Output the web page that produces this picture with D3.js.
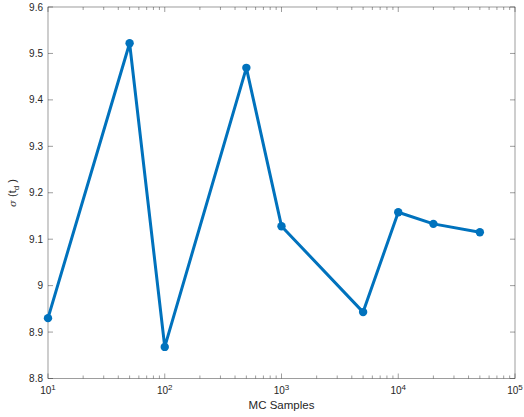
<!DOCTYPE html>
<html><head><meta charset="utf-8">
<script src="https://cdn.jsdelivr.net/npm/d3@7"></script>
<style>body{margin:0;background:#fff}text{font-family:"Liberation Sans",Arial,sans-serif}</style>
</head><body><svg id="c" width="524" height="417"></svg>
<script>
const samples = [10, 50, 100, 500, 1000, 5000, 10000, 20000, 50000];
const sigma = [8.930, 9.522, 8.868, 9.469, 9.128, 8.943, 9.158, 9.133, 9.115];
const yTicks = [8.8, 8.9, 9, 9.1, 9.2, 9.3, 9.4, 9.5, 9.6];
const xExps = [1, 2, 3, 4, 5];

const svg = d3.select("#c");
const L = 48, R = 515, T = 7, B = 378.5;
const x = d3.scaleLog().domain([10, 1e5]).range([L, R]);
const y = d3.scaleLinear().domain([8.8, 9.6]).range([B, T]);
const axc = "#262626";

svg.append("rect").attr("x", L).attr("y", T).attr("width", R - L).attr("height", B - T)
  .attr("fill", "none").attr("stroke", axc).attr("stroke-width", 0.6).attr("stroke-opacity", 0.75);

const xt = [];
for (let e = 1; e <= 5; e++) {
  for (let m = 1; m <= 9; m++) {
    const v = m * Math.pow(10, e);
    if (v > 1e5) break;
    xt.push({ v, major: m === 1 });
  }
}
const g = svg.append("g").attr("stroke", axc).attr("stroke-width", 0.6).attr("stroke-opacity", 0.75);
xt.forEach(t => {
  const px = x(t.v), len = t.major ? 5 : 3;
  g.append("line").attr("x1", px).attr("x2", px).attr("y1", B).attr("y2", B - len);
  g.append("line").attr("x1", px).attr("x2", px).attr("y1", T).attr("y2", T + len);
});
yTicks.forEach(v => {
  const py = y(v);
  g.append("line").attr("x1", L).attr("x2", L + 5).attr("y1", py).attr("y2", py);
  g.append("line").attr("x1", R).attr("x2", R - 5).attr("y1", py).attr("y2", py);
});

svg.append("g").selectAll("text").data(yTicks).join("text")
  .attr("x", L - 5).attr("y", d => y(d) + 3.5).attr("text-anchor", "end")
  .attr("font-size", 10).attr("fill", axc).text(d => d === 9 ? "9" : d.toFixed(1));

const xl = svg.append("g").attr("fill", axc);
xExps.forEach(e => {
  const t = xl.append("text").attr("x", x(Math.pow(10, e))).attr("y", 394)
    .attr("text-anchor", "middle").attr("font-size", 10);
  t.append("tspan").text("10");
  t.append("tspan").attr("dy", -4).attr("font-size", 8).text(e);
});

svg.append("text").attr("x", (L + R) / 2).attr("y", 409).attr("text-anchor", "middle")
  .attr("font-size", 11.5).attr("fill", axc).text("MC Samples");
const yl = svg.append("text").attr("transform", "translate(16,193) rotate(-90)")
  .attr("text-anchor", "middle").attr("font-size", 11).attr("fill", axc);
yl.append("tspan").attr("font-style", "italic").attr("font-family", "DejaVu Serif").attr("font-size", 10).text("σ");
yl.append("tspan").text(" (t");
yl.append("tspan").attr("dy", 3).attr("font-size", 8).text("d");
yl.append("tspan").attr("dy", -3).text(" )");

const data = samples.map((s, i) => [s, sigma[i]]);
svg.append("path").datum(data)
  .attr("d", d3.line().x(d => x(d[0])).y(d => y(d[1])))
  .attr("fill", "none").attr("stroke", "#0072BD").attr("stroke-width", 3).attr("stroke-linejoin", "round");
svg.append("g").selectAll("circle").data(data).join("circle")
  .attr("cx", d => x(d[0])).attr("cy", d => y(d[1])).attr("r", 4.2).attr("fill", "#0072BD");
</script></body></html>
